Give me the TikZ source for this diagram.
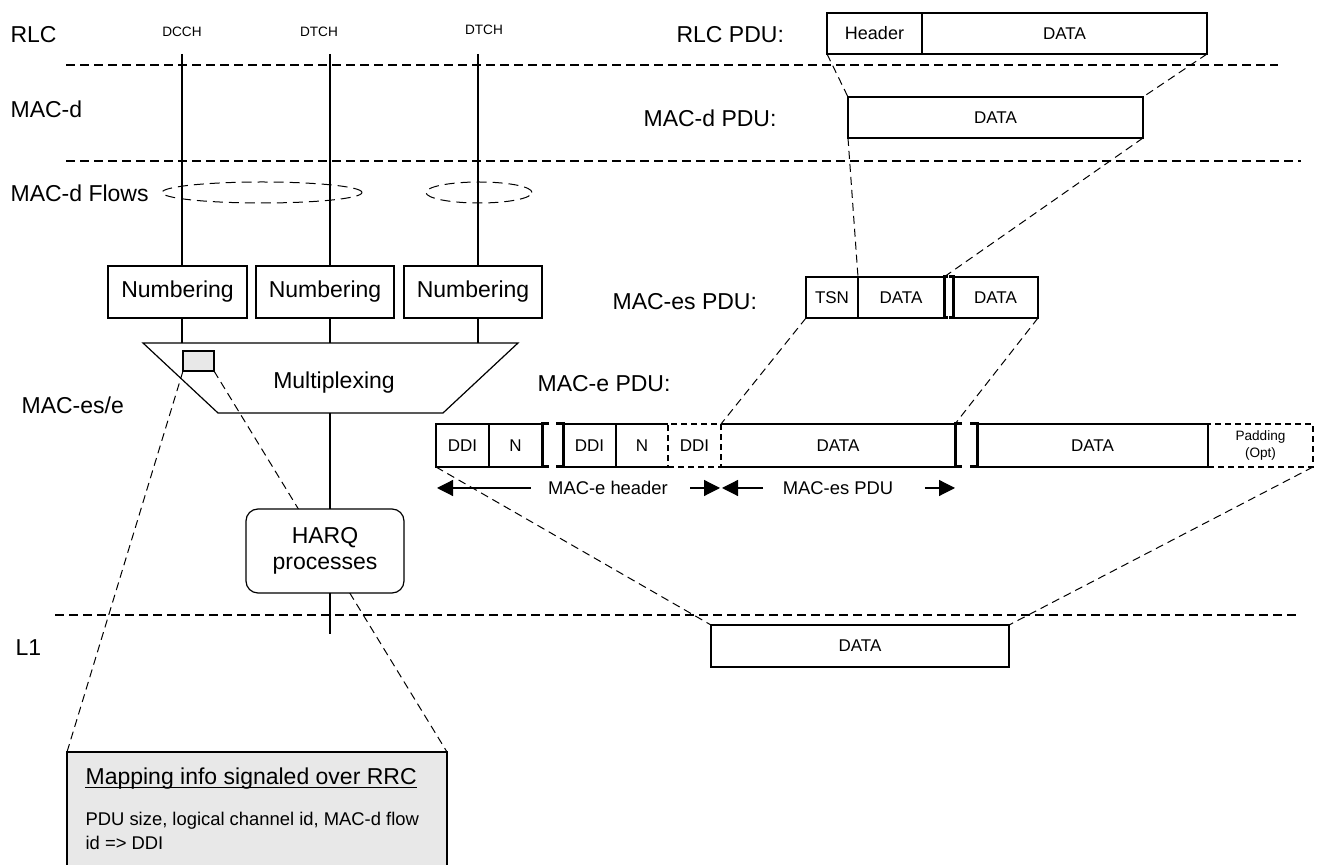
\documentclass[tikz,border=0pt]{standalone}
\usepackage{fontspec}
\setmainfont{Liberation Sans}
\usetikzlibrary{arrows.meta,shapes.geometric}

\begin{document}
\begin{tikzpicture}[x=0.5pt,y=0.5pt,yscale=-1,xscale=1,line width=0.6pt,
  txt/.style={inner sep=0pt,font=\fontsize{11.5}{13}\selectfont},
  chan/.style={inner sep=0pt,font=\fontsize{6.8}{8}\selectfont},
  cell/.style={draw,inner sep=0pt,outer sep=0pt,anchor=north west,font=\fontsize{8.5}{10}\selectfont},
  blank/.style={cell,draw=none},
  opt/.style={cell,line width=1pt,dash pattern=on 3pt off 2pt},
  layer/.style={dash pattern=on 4.5pt off 2.5pt},
  link/.style={line width=0.5pt,dash pattern=on 4pt off 2.5pt},
  brk/.style={line width=1.5pt},
  span/.style={-{Triangle[length=8pt,width=8pt]}}]
\useasboundingbox (0,0) rectangle (1319,865);

%Straight Lines: layer borders
\draw [layer] (66,65) -- (1278,65) ;
\draw [layer] (66,161) -- (1301,161) ;
\draw [layer] (55,615) -- (1296,615) ;

% Text Node
\node [txt,anchor=west] (rlc) at (10,35) {RLC};
\node [txt,anchor=west] (macd) at (10,109) {MAC-d};
\node [txt,anchor=west] (flows) at (10,193) {MAC-d Flows};
\node [txt,anchor=west] (maces) at (21,405) {MAC-es/e};
\node [txt,anchor=west] (lone) at (15,648) {L1};
% Text Node
\node [chan] (dcch) at (182,32) {DCCH};
\node [chan] (dtchA) at (319,32) {DTCH};
\node [chan] (dtchB) at (484,30) {DTCH};
\coordinate (chA) at (182,54);
\coordinate (chB) at (330,54);
\coordinate (chC) at (478,54);
\coordinate (l1end) at (330,634);

%Shape: Rectangle
\node [cell,minimum width=69.5pt,minimum height=26pt,font=\fontsize{11.5}{13}\selectfont] (numA) at (108,266) {Numbering};
\node [cell,minimum width=69pt,minimum height=26pt,font=\fontsize{11.5}{13}\selectfont] (numB) at (256,266) {Numbering};
\node [cell,minimum width=69pt,minimum height=26pt,font=\fontsize{11.5}{13}\selectfont] (numC) at (404,266) {Numbering};

%Shape: Trapezoid
\coordinate (muxTL) at (143,343);
\coordinate (muxTR) at (518,343);
\coordinate (muxBR) at (443,413);
\coordinate (muxBL) at (218,413);
\draw (muxTL) -- (muxTR) -- (muxBR) -- (muxBL) -- cycle ;
\node [txt] (mux) at (334,383) {Multiplexing};

%Straight Lines: channels
\draw (chA) -- (chA |- numA.north) ;
\draw (chB) -- (chB |- numB.north) ;
\draw (chC) -- (chC |- numC.north) ;
\draw (chA |- numA.south) -- (chA |- muxTL) ;
\draw (chB |- numB.south) -- (chB |- muxTL) ;
\draw (chC |- numC.south) -- (chC |- muxTL) ;

%Shape: Ellipse
\node [draw,ellipse,link,dash pattern=on 5pt off 3pt,minimum width=100pt,minimum height=10.5pt,inner sep=0pt] (flowA) at (262,192.5) {};
\node [draw,ellipse,link,dash pattern=on 5pt off 3pt,minimum width=53pt,minimum height=10.5pt,inner sep=0pt] (flowB) at (479,192.5) {};

%Shape: Rectangle
\node [cell,fill=black!9,minimum width=15.5pt,minimum height=10pt] (ddimap) at (183,351) {};
\node [cell,fill=black!9,minimum width=190pt,minimum height=65pt] (mapbox) at (67,752) {};
% Text Node
\node [txt,anchor=base west] (maptitle) at (85,785) {Mapping info signaled over RRC};
\draw [line width=0.5pt] ([yshift=1.4pt]maptitle.base west) -- ([yshift=1.4pt]maptitle.base east) ;
\node [anchor=west,inner sep=0pt,align=left,font=\fontsize{9.2}{12}\selectfont] (mapbody) at (85,831) {PDU size, logical channel id, MAC-d flow\\id => DDI};
%Straight Lines
\draw [link] (ddimap.south west) -- (mapbox.north west) ;
\draw [link] (ddimap.south east) -- (mapbox.north east) ;

%Shape: Rounded Rectangle
\node [cell,fill=white,rounded corners=6pt,minimum width=79pt,minimum height=42pt,align=center,font=\fontsize{11.5}{13}\selectfont] (harq) at (246,509) {HARQ\\processes};
\draw (chB |- muxBL) -- (chB |- harq.north) ;
\draw (chB |- harq.south) -- (l1end) ;

% RLC PDU
\node [txt,anchor=west] (rlcpdu) at (676,35) {RLC PDU:};
\node [cell,minimum width=47.5pt,minimum height=20.5pt,font=\fontsize{9}{10}\selectfont] (hdr) at (827,13) {Header};
\node [cell,minimum width=142.5pt,minimum height=20.5pt] (rlcdata) at (922,13) {DATA};

% MAC-d PDU
\node [txt,anchor=west] (macdpdu) at (643,118) {MAC-d PDU:};
\node [cell,minimum width=147.5pt,minimum height=20.5pt] (macddata) at (848,97) {DATA};

% MAC-es PDU
\node [txt,anchor=west] (macespdu) at (612,302) {MAC-es PDU:};
\node [cell,minimum width=26pt,minimum height=20.5pt] (tsn) at (806,277) {TSN};
\node [cell,minimum width=43pt,minimum height=20.5pt] (esdata) at (858,277) {DATA};
\node [cell,minimum width=42.5pt,minimum height=20.5pt] (esdataB) at (953,277) {DATA};
\draw [brk] ([xshift=2pt]esdata.north east) -- (esdata.north east) -- (esdata.south east) -- ([xshift=2pt]esdata.south east) ;
\draw [brk] ([xshift=-2pt]esdataB.north west) -- (esdataB.north west) -- (esdataB.south west) -- ([xshift=-2pt]esdataB.south west) ;

% MAC-e PDU
\node [txt,anchor=west] (macepdu) at (537,384) {MAC-e PDU:};
\node [cell,minimum width=26.5pt,minimum height=21.5pt] (ddiA) at (436,424) {DDI};
\node [cell,minimum width=26.5pt,minimum height=21.5pt] (nA) at (489,424) {N};
\node [cell,minimum width=26.5pt,minimum height=21.5pt] (ddiB) at (563,424) {DDI};
\node [blank,minimum width=26pt,minimum height=21.5pt] (nB) at (616,424) {N};
\node [opt,minimum width=26.5pt,minimum height=21.5pt] (ddiC) at (668,424) {DDI};
\node [blank,minimum width=117pt,minimum height=21.5pt] (edata) at (721,424) {DATA};
\node [cell,minimum width=115.5pt,minimum height=21.5pt] (edataB) at (977,424) {DATA};
\node [opt,minimum width=52.5pt,minimum height=21.5pt,align=center,font=\fontsize{6.8}{8.5}\selectfont] (pad) at (1208,424) {Padding\\(Opt)};
\draw (nB.north west) -- (nB.north east) (nB.south west) -- (nB.south east) ;
\draw (edata.north west) -- (edata.north east) -- (edata.south east) -- (edata.south west) ;
\draw [brk] ([xshift=3.5pt]nA.north east) -- (nA.north east) -- (nA.south east) -- ([xshift=3.5pt]nA.south east) ;
\draw [brk] ([xshift=-3.5pt]ddiB.north west) -- (ddiB.north west) -- (ddiB.south west) -- ([xshift=-3.5pt]ddiB.south west) ;
\draw [brk] ([xshift=3.5pt]edata.north east) -- (edata.north east) -- (edata.south east) -- ([xshift=3.5pt]edata.south east) ;
\draw [brk] ([xshift=-3.5pt]edataB.north west) -- (edataB.north west) -- (edataB.south west) -- ([xshift=-3.5pt]edataB.south west) ;
%Straight Lines: break marks
\draw [line width=1.2pt] (863,424) -- (870,424) (874,424) -- (881,424) (863,467) -- (870,467) (874,467) -- (881,467) ;
\draw [line width=1.2pt] (1113,424) -- (1121,424) (1125,424) -- (1132,424) (1113,467) -- (1121,467) (1125,467) -- (1132,467) ;

% L1
\node [cell,minimum width=149pt,minimum height=21pt] (l1data) at (711,625) {DATA};

%Straight Lines: mapping between layers
\draw [link] (hdr.south west) -- (macddata.north west) ;
\draw [link] (rlcdata.south east) -- (macddata.north east) ;
\draw [link] (macddata.south west) -- (esdata.north west) ;
\draw [link] (macddata.south east) -- (esdata.north east) ;
\draw [link] (tsn.south west) -- (edata.north west) ;
\draw [link] (esdataB.south east) -- (edata.north east) ;
\draw [link] (ddiA.south west) -- (l1data.north west) ;
\draw [link] (pad.south east) -- (l1data.north east) ;

% Text Node: spans
\node [inner sep=0pt,font=\fontsize{9.2}{11}\selectfont] (hdrspan) at (608,488) {MAC-e header};
\node [inner sep=0pt,font=\fontsize{9.2}{11}\selectfont] (esspan) at (838,488) {MAC-es PDU};
\coordinate (hdrL) at (437,488);
\coordinate (hdrR) at (720,488);
\coordinate (esL) at (722,488);
\coordinate (esR) at (955,488);
\draw [span] ([xshift=-8.5pt]hdrspan.west) -- (hdrL) ;
\draw [span] ([xshift=11pt]hdrspan.east) -- (hdrR) ;
\draw [span] ([xshift=-9.5pt]esspan.west) -- (esL) ;
\draw [span] ([xshift=15.5pt]esspan.east) -- (esR) ;

\end{tikzpicture}
\end{document}
